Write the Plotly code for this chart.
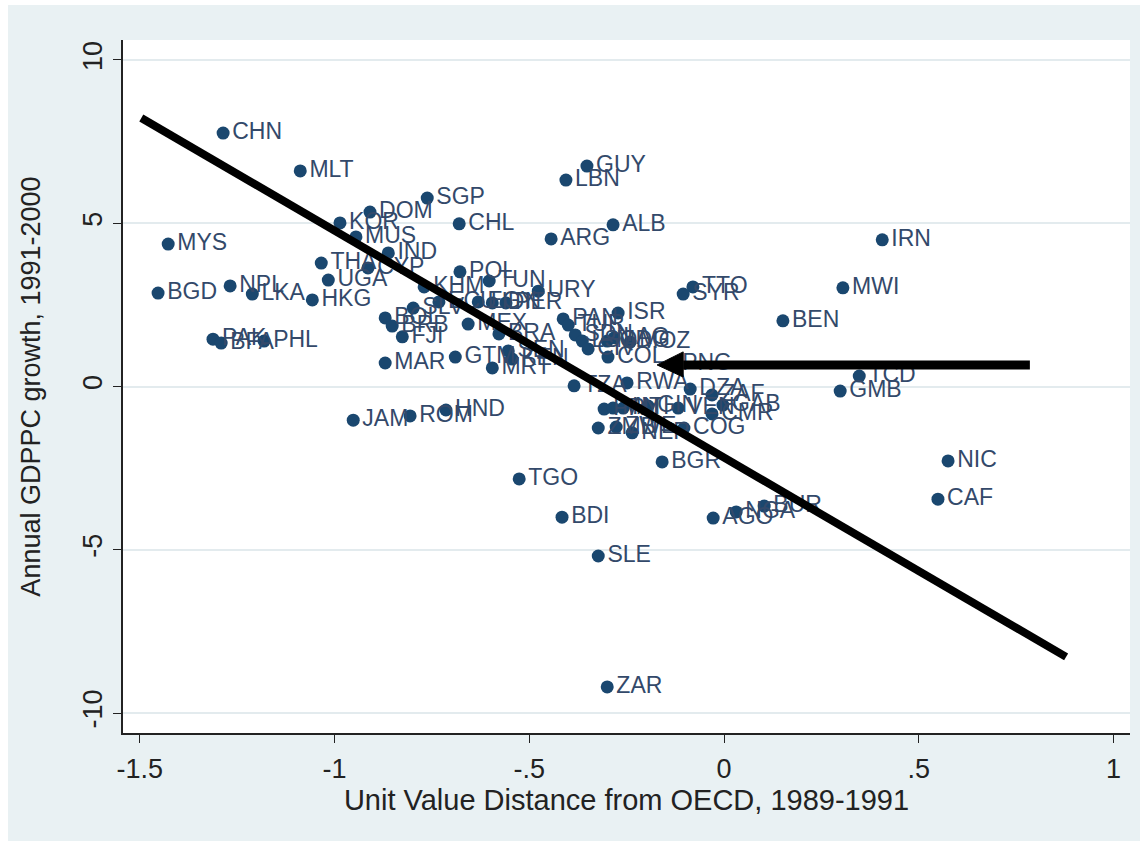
import plotly.graph_objects as go

# ---- data ----
codes = ["CHN", "MLT", "GUY", "LBN", "SGP", "DOM", "KOR", "CHL", "ALB", "MYS",
         "ARG", "IRN", "MUS", "IND", "THA", "CYP", "UGA", "POL", "TUN", "URY",
         "BGD", "NPL", "LKA", "HKG", "KHM", "TTO", "SYR", "MWI", "BEN", "SLV",
         "ECU", "EGY", "IDN", "PER", "ISR", "PAN", "TUR", "BOL", "BRB", "FJI",
         "MEX", "BRA", "SEN", "KEN", "PAK", "BFA", "PHL", "MAR", "GTM", "MRT",
         "SDN", "LSO", "CIV", "MDG", "LAO", "MOZ", "COL", "PNG", "TZA", "RWA",
         "DZA", "ZAF", "GMB", "TCD", "PRY", "MLI", "HTI", "GIN", "VEN", "GAB",
         "CMR", "ZMB", "ZWE", "NER", "COG", "JAM", "ROM", "HND", "TGO", "BDI",
         "SLE", "ZAR", "BGR", "AGO", "NGA", "BUR", "NIC", "CAF"]

unit_value_distance = [
    -1.286, -1.088, -0.352, -0.406, -0.762, -0.909, -0.986, -0.680, -0.285, -1.427,
    -0.444, 0.406, -0.945, -0.862, -1.034, -0.914, -1.016, -0.678, -0.603, -0.477,
    -1.453, -1.268, -1.211, -1.057, -0.770, -0.080, -0.105, 0.305, 0.151, -0.798,
    -0.732, -0.631, -0.595, -0.560, -0.272, -0.413, -0.400, -0.870, -0.852, -0.826,
    -0.657, -0.578, -0.554, -0.544, -1.312, -1.291, -1.181, -0.870, -0.690, -0.595,
    -0.382, -0.364, -0.349, -0.300, -0.282, -0.241, -0.298, -0.131, -0.385, -0.249,
    -0.087, -0.031, 0.298, 0.347, -0.308, -0.285, -0.259, -0.195, -0.118, -0.003,
    -0.031, -0.323, -0.277, -0.236, -0.103, -0.952, -0.806, -0.714, -0.526, -0.416,
    -0.323, -0.300, -0.159, -0.028, 0.031, 0.103, 0.575, 0.549]

gdppc_growth = [
    7.76, 6.60, 6.75, 6.32, 5.77, 5.34, 5.01, 4.98, 4.95, 4.36,
    4.52, 4.49, 4.58, 4.09, 3.78, 3.63, 3.26, 3.51, 3.23, 2.92,
    2.86, 3.08, 2.83, 2.65, 3.05, 3.05, 2.83, 3.02, 2.01, 2.40,
    2.59, 2.59, 2.56, 2.56, 2.25, 2.07, 1.88, 2.10, 1.85, 1.52,
    1.91, 1.61, 1.09, 0.84, 1.45, 1.33, 1.39, 0.72, 0.90, 0.57,
    1.58, 1.39, 1.15, 1.39, 1.49, 1.36, 0.90, 0.69, 0.02, 0.11,
    -0.08, -0.26, -0.14, 0.32, -0.69, -0.66, -0.66, -0.60, -0.66, -0.57,
    -0.84, -1.27, -1.24, -1.42, -1.27, -1.03, -0.90, -0.72, -2.83, -4.00,
    -5.19, -9.20, -2.31, -4.03, -3.84, -3.66, -2.28, -3.45]

x_tick_vals = [-1.5, -1, -0.5, 0, 0.5, 1]
x_tick_text = ["-1.5", "-1", "-.5", "0", ".5", "1"]
y_tick_vals = [-10, -5, 0, 5, 10]
y_tick_text = ["-10", "-5", "0", "5", "10"]

x_title = "Unit Value Distance from OECD, 1989-1991"
y_title = "Annual GDPPC growth, 1991-2000"

# hand-drawn overlay (in data units)
trend_x = [-1.496, 0.878]
trend_y = [8.22, -8.28]
arrow_x = [0.785, -0.105]      # tail, base of head
arrow_y = 0.66
arrow_tip_x = -0.172
arrow_head_y = [1.06, 0.29]

# ---- styling ----
NAVY = "#1a476f"
LABEL = "#33496a"
BG = "#e9f1f3"
FONT = "Liberation Sans, Arial, sans-serif"

fig = go.Figure()
fig.add_trace(go.Scatter(
    x=unit_value_distance, y=gdppc_growth, text=codes,
    mode="markers+text", textposition="middle right",
    marker=dict(color=NAVY, size=13, line=dict(width=0)),
    textfont=dict(family=FONT, size=23, color=LABEL),
    cliponaxis=False, showlegend=False, hoverinfo="skip"))

# margins of plot area in pixels
L, R, T, B = 123, 10, 40, 108
W, H = 1140, 841
pw, ph = W - L - R, H - T - B

def px_x(p):
    return (p - L) / pw

def px_y(p):
    return (H - B - p) / ph

shapes = [
    dict(type="rect", xref="paper", yref="paper", layer="below",
         x0=px_x(8), x1=px_x(W), y0=px_y(H), y1=px_y(5),
         fillcolor=BG, line=dict(width=0)),
    dict(type="rect", xref="paper", yref="paper", layer="below",
         x0=0, x1=1, y0=0, y1=1, fillcolor="white", line=dict(width=0)),
    dict(type="line", xref="x", yref="y", layer="above",
         x0=trend_x[0], y0=trend_y[0], x1=trend_x[1], y1=trend_y[1],
         line=dict(color="black", width=8)),
    dict(type="line", xref="x", yref="y", layer="above",
         x0=arrow_x[0], y0=arrow_y, x1=arrow_x[1], y1=arrow_y,
         line=dict(color="black", width=9)),
    dict(type="path", xref="x", yref="y", layer="above",
         path=f"M {arrow_tip_x} {arrow_y} L {arrow_x[1]} {arrow_head_y[0]} "
              f"L {arrow_x[1]} {arrow_head_y[1]} Z",
         fillcolor="black", line=dict(color="black", width=1)),
]

fig.update_layout(
    width=W, height=H,
    margin=dict(l=L, r=R, t=T, b=B, pad=0, autoexpand=False),
    paper_bgcolor="white", plot_bgcolor="white",
    font=dict(family=FONT, color="#222222"),
    shapes=shapes,
    xaxis=dict(range=[-1.543, 1.042], tickvals=x_tick_vals, ticktext=x_tick_text,
               automargin=False, ticklabelstandoff=3,
               showgrid=False, zeroline=False, showline=True, linecolor="#222222",
               linewidth=1.5, ticks="outside", ticklen=8, tickcolor="#222222",
               tickfont=dict(size=27, color="#222222"),
               title=dict(text=x_title, font=dict(size=29, color="#222222"), standoff=0)),
    yaxis=dict(range=[-10.61, 10.61], tickvals=y_tick_vals, ticktext=y_tick_text,
               tickangle=-90, automargin=False,
               showgrid=True, gridcolor="#e3ebee", gridwidth=1.5,
               zeroline=False, showline=True, linecolor="#222222",
               linewidth=1.5, ticks="outside", ticklen=8, tickcolor="#222222",
               tickfont=dict(size=27, color="#222222"),
               title=dict(text=y_title, font=dict(size=27, color="#222222"), standoff=30)),
)

fig.write_html("out.html", config={"displayModeBar": False},
               post_script="document.body.style.margin='0px';")
